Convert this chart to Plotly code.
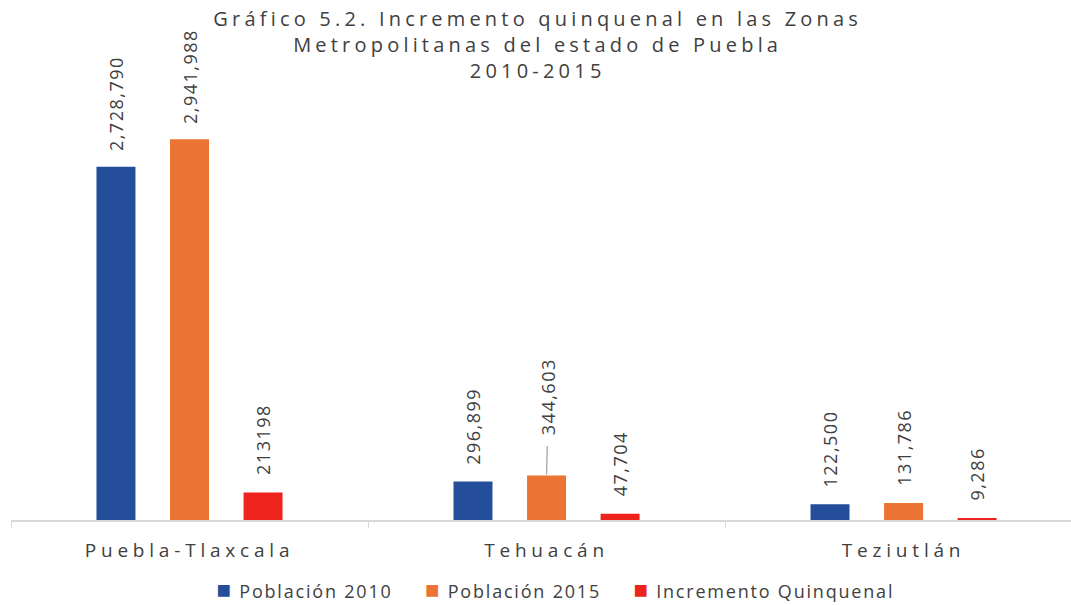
import plotly.graph_objects as go

# Zonas metropolitanas del estado de Puebla
zonas = ["Puebla-Tlaxcala", "Tehuacán", "Teziutlán"]
poblacion_2010 = [2728790, 296899, 122500]
poblacion_2015 = [2941988, 344603, 131786]
incremento = [213198, 47704, 9286]

series = [
    ("Población 2010", poblacion_2010, "#244E9A"),
    ("Población 2015", poblacion_2015, "#EB7434"),
    ("Incremento Quinquenal", incremento, "#EF231E"),
]

titulo = "Gráfico 5.2. Incremento quinquenal en las Zonas<br>Metropolitanas del estado de Puebla<br>2010-2015"

FONT = "Open Sans"
TEXT_COLOR = "#404040"

fig = go.Figure()
for name, vals, color in series:
    fig.add_trace(go.Bar(
        name=name, x=zonas, y=vals, marker=dict(color=color, line=dict(width=0)),
        hoverinfo="skip", showlegend=False,
    ))

annotations = []

# title (annotation index 0)
annotations.append(dict(
    text=titulo, xref="paper", yref="paper", x=0.497, y=1.142,
    xanchor="center", yanchor="top", showarrow=False,
    font=dict(family=FONT, size=20, color=TEXT_COLOR),
))

# legend row (annotation index 1)
sep = "&nbsp;" * 5
items = [
    f"<span style='font-size:24px;color:{color}'>■</span> {name}"
    for name, _, color in series
]
annotations.append(dict(
    text=sep.join(items), xref="paper", yref="paper", x=0.514, y=-0.152,
    xanchor="center", yanchor="middle", showarrow=False,
    font=dict(family=FONT, size=18, color=TEXT_COLOR),
))

# rotated value labels above each bar
offsets = [-73.5, 0, 73.5]
for (name, vals, color), dx in zip(series, offsets):
    for zona, v in zip(zonas, vals):
        label = f"{v:,}"
        if name == "Incremento Quinquenal" and zona == "Puebla-Tlaxcala":
            label = f"{v}"
        if name == "Población 2015" and zona == "Tehuacán":
            # label lifted away from the bar with a leader line
            annotations.append(dict(
                x=zona, y=v, xref="x", yref="y", xshift=dx, text=label,
                textangle=-90, showarrow=True, arrowhead=0, arrowwidth=1.3,
                arrowcolor="#a6a6a6", ax=2, ay=-78, standoff=1, startstandoff=14,
                font=dict(family=FONT, size=18, color=TEXT_COLOR),
            ))
            continue
        annotations.append(dict(
            x=zona, y=v, xref="x", yref="y", xshift=dx, yshift=20,
            text=label, textangle=-90, showarrow=False,
            xanchor="center", yanchor="bottom",
            font=dict(family=FONT, size=18, color=TEXT_COLOR),
        ))

fig.update_layout(
    width=1071, height=605,
    margin=dict(l=11, r=0, t=67, b=85, autoexpand=False),
    paper_bgcolor="white", plot_bgcolor="white",
    barmode="group", bargap=0.382, bargroupgap=0.47,
    xaxis=dict(
        range=[-0.5, 2.469],
        showline=True, linecolor="#d9d9d9", linewidth=1.5,
        ticks="outside", tickson="boundaries", ticklen=6, tickcolor="#d9d9d9",
        tickfont=dict(family=FONT, size=19, color=TEXT_COLOR),
        ticklabelstandoff=12,
        showgrid=False, fixedrange=True,
    ),
    yaxis=dict(range=[0, 3500000], visible=False, showgrid=False, fixedrange=True),
    annotations=annotations,
    showlegend=False,
)

# letter spacing for title, legend, value labels and category labels
post = """
var s = document.createElement('style');
s.innerHTML = '.annotation text{letter-spacing:1.5px;}'
  + ' .annotation[data-index="0"] text{letter-spacing:4.2px;}'
  + ' .annotation[data-index="1"] text{letter-spacing:1.8px;}'
  + ' .xtick text{letter-spacing:4.8px;}';
document.head.appendChild(s);
"""
fig.write_html("out.html", post_script=post, config={"displayModeBar": False})
